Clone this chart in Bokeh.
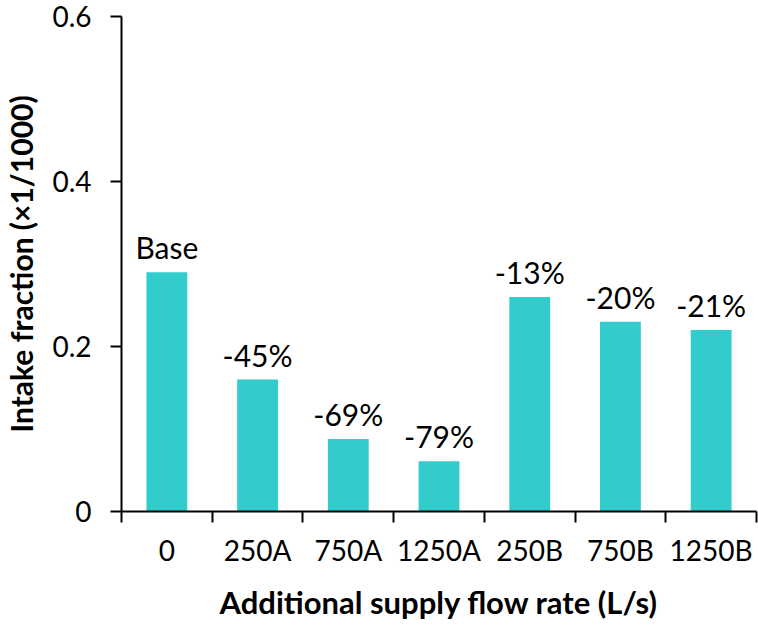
from bokeh.plotting import figure
from bokeh.models import Range1d, FixedTicker, ColumnDataSource
from bokeh.embed import file_html
from bokeh.resources import INLINE
from bokeh.core.properties import value

# ---- data ----
categories = ["0", "250A", "750A", "1250A", "250B", "750B", "1250B"]
intake_fraction = [0.290, 0.160, 0.088, 0.061, 0.260, 0.230, 0.220]
bar_labels = ["Base", "-45%", "-69%", "-79%", "-13%", "-20%", "-21%"]
y_ticks = [0, 0.2, 0.4, 0.6]
y_tick_labels = ["0", "0.2", "0.4", "0.6"]

FONT = "Lato"
BAR_COLOR = "#33CCCC"

centers = [i + 0.5 for i in range(len(categories))]
boundaries = [i for i in range(len(categories) + 1)]

src = ColumnDataSource(dict(x=centers, top=intake_fraction, label=bar_labels))

p = figure(width=758, height=625, output_backend="svg", toolbar_location=None,
           x_range=Range1d(0, len(categories)), y_range=Range1d(0, 0.6),
           min_border_left=121, min_border_right=2, min_border_top=16,
           min_border_bottom=114)
p.outline_line_color = None
p.xgrid.visible = False
p.ygrid.visible = False
p.background_fill_color = "white"
p.border_fill_color = "white"

p.vbar(x="x", top="top", width=0.45, bottom=0, source=src,
       fill_color=BAR_COLOR, line_color=None)

p.text(x="x", y="top", text="label", source=src, text_align="center",
       text_baseline="alphabetic", y_offset=-25,
       text_font=value(FONT), text_font_size="30px", text_color="black")

# x axis: labels at centers, tick marks at category boundaries
xa = p.xaxis[0]
xa.ticker = FixedTicker(ticks=centers, minor_ticks=boundaries)
xa.major_label_overrides = {c: lab for c, lab in zip(centers, categories)}
xa.major_tick_line_color = None
xa.major_tick_out = 11
xa.major_tick_in = 0
xa.minor_tick_line_color = "black"
xa.minor_tick_line_width = 2
xa.minor_tick_out = 11
xa.minor_tick_in = 0
xa.axis_line_color = "black"
xa.axis_line_width = 2
xa.major_label_text_font = FONT
xa.major_label_text_font_size = "28px"
xa.major_label_text_color = "black"
xa.major_label_standoff = 10
xa.axis_label = "Additional supply flow rate (L/s)"
xa.axis_label_text_font = FONT
xa.axis_label_text_font_size = "31px"
xa.axis_label_text_font_style = "bold"
xa.axis_label_text_color = "black"
xa.axis_label_standoff = 13

ya = p.yaxis[0]
ya.ticker = FixedTicker(ticks=y_ticks, minor_ticks=[])
ya.major_label_overrides = {t: lab for t, lab in zip(y_ticks, y_tick_labels)}
ya.major_tick_line_color = "black"
ya.major_tick_line_width = 2
ya.major_tick_out = 11
ya.major_tick_in = 0
ya.minor_tick_line_color = None
ya.axis_line_color = "black"
ya.axis_line_width = 2
ya.major_label_text_font = FONT
ya.major_label_text_font_size = "28px"
ya.major_label_text_color = "black"
ya.major_label_standoff = 19
ya.axis_label = "Intake fraction (×1/1000)"
ya.axis_label_text_font = FONT
ya.axis_label_text_font_size = "30px"
ya.axis_label_text_font_style = "bold"
ya.axis_label_text_color = "black"
ya.axis_label_standoff = 10

open("out.html", "w").write(file_html(p, INLINE))
